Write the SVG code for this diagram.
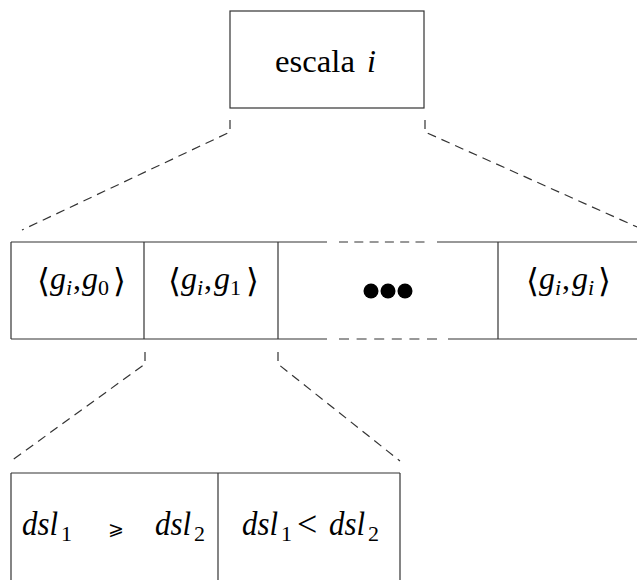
<svg xmlns="http://www.w3.org/2000/svg" width="637" height="580" viewBox="0 0 637 580">
  <style>
    .box { fill: none; stroke: #333; stroke-width: 1.2; }
    .edge { fill: none; stroke: #333; stroke-width: 1.2; }
    .dash { fill: none; stroke: #333; stroke-width: 1.2; stroke-dasharray: 9 6; }
    .rm { font-family: "Liberation Serif", "DejaVu Serif", serif; font-size: 32px; fill: #000; }
    .mi { font-family: "Liberation Serif", "DejaVu Serif", serif; font-style: italic; font-size: 32px; fill: #000; }
    .big { font-size: 34px; }
    .sub { font-family: "Liberation Serif", "DejaVu Serif", serif; font-size: 22px; fill: #000; }
    .subi { font-family: "Liberation Serif", "DejaVu Serif", serif; font-style: italic; font-size: 22px; fill: #000; }
    .br { font-family: "DejaVu Serif", "DejaVu Sans", serif; font-size: 33px; fill: #000; }
    .rel { font-family: "DejaVu Sans", "DejaVu Serif", sans-serif; font-size: 19px; fill: #000; }
  </style>

  <!-- scale node -->
  <g id="scale-node">
    <rect class="box" x="230" y="11" width="194" height="97"/>
    <text class="rm" x="275" y="72" textLength="80" lengthAdjust="spacingAndGlyphs">escala</text>
    <text class="mi" x="367" y="72">i</text>
  </g>

  <!-- array of pairs -->
  <g id="pair-array">
    <line class="edge" x1="11" y1="242" x2="327" y2="242"/>
    <line class="edge" x1="437" y1="242" x2="637" y2="242"/>
    <line class="edge" x1="11" y1="339" x2="327" y2="339"/>
    <line class="edge" x1="448" y1="339" x2="637" y2="339"/>
    <line class="edge" x1="339" y1="242" x2="425" y2="242" stroke-dasharray="9 6.3"/>
    <line class="edge" x1="339" y1="339" x2="437" y2="339" stroke-dasharray="10 7.6"/>
    <line class="edge" x1="11" y1="242" x2="11" y2="339"/>
    <line class="edge" x1="144" y1="242" x2="144" y2="339"/>
    <line class="edge" x1="278" y1="242" x2="278" y2="339"/>
    <line class="edge" x1="498" y1="242" x2="498" y2="339"/>
  </g>

  <g id="pair-g0">
    <text class="br" x="37" y="292">⟨</text>
    <text class="mi" x="50" y="289">g</text>
    <text class="subi" x="66" y="295">i</text>
    <text class="rm" x="73" y="289">,</text>
    <text class="mi" x="82" y="289">g</text>
    <text class="sub" x="98" y="295">0</text>
    <text class="br" x="113" y="292">⟩</text>
  </g>

  <g id="pair-g1">
    <text class="br" x="168" y="292">⟨</text>
    <text class="mi" x="181" y="289">g</text>
    <text class="subi" x="197" y="295">i</text>
    <text class="rm" x="204" y="289">,</text>
    <text class="mi" x="214" y="289">g</text>
    <text class="sub" x="230" y="295">1</text>
    <text class="br" x="246" y="292">⟩</text>
  </g>

  <g id="pair-ellipsis">
    <circle cx="371" cy="291" r="7.5" fill="#000"/>
    <circle cx="388" cy="291" r="7.5" fill="#000"/>
    <circle cx="405" cy="291" r="7.5" fill="#000"/>
  </g>

  <g id="pair-gi">
    <text class="br" x="526" y="292">⟨</text>
    <text class="mi" x="539" y="289">g</text>
    <text class="subi" x="555" y="295">i</text>
    <text class="rm" x="562" y="289">,</text>
    <text class="mi" x="572" y="289">g</text>
    <text class="subi" x="588" y="295">i</text>
    <text class="br" x="598" y="292">⟩</text>
  </g>

  <!-- comparison node -->
  <g id="compare-node">
    <line class="edge" x1="11" y1="473" x2="400" y2="473"/>
    <line class="edge" x1="11" y1="473" x2="11" y2="580"/>
    <line class="edge" x1="218" y1="473" x2="218" y2="580"/>
    <line class="edge" x1="400" y1="473" x2="400" y2="580"/>
    <text class="mi big" x="22" y="535" textLength="36" lengthAdjust="spacingAndGlyphs">dsl</text>
    <text class="sub" x="61" y="541">1</text>
    <text class="rel" x="108" y="535">⩾</text>
    <text class="mi big" x="155" y="535" textLength="36" lengthAdjust="spacingAndGlyphs">dsl</text>
    <text class="sub" x="194" y="541">2</text>

    <text class="mi big" x="242" y="535" textLength="36" lengthAdjust="spacingAndGlyphs">dsl</text>
    <text class="sub" x="281" y="541">1</text>
    <text class="rm" x="297" y="536" style="font-size:36px">&lt;</text>
    <text class="mi big" x="329" y="535" textLength="36" lengthAdjust="spacingAndGlyphs">dsl</text>
    <text class="sub" x="368" y="541">2</text>
  </g>

  <!-- zoom connectors -->
  <g id="connectors">
    <polyline class="dash" points="230,120 230,132 22,230"/>
    <polyline class="dash" points="425,120 425,132 637,227"/>
    <polyline class="dash" points="145,352 145,364 11,461"/>
    <polyline class="dash" points="278,352 278,364 400,461"/>
  </g>
</svg>
